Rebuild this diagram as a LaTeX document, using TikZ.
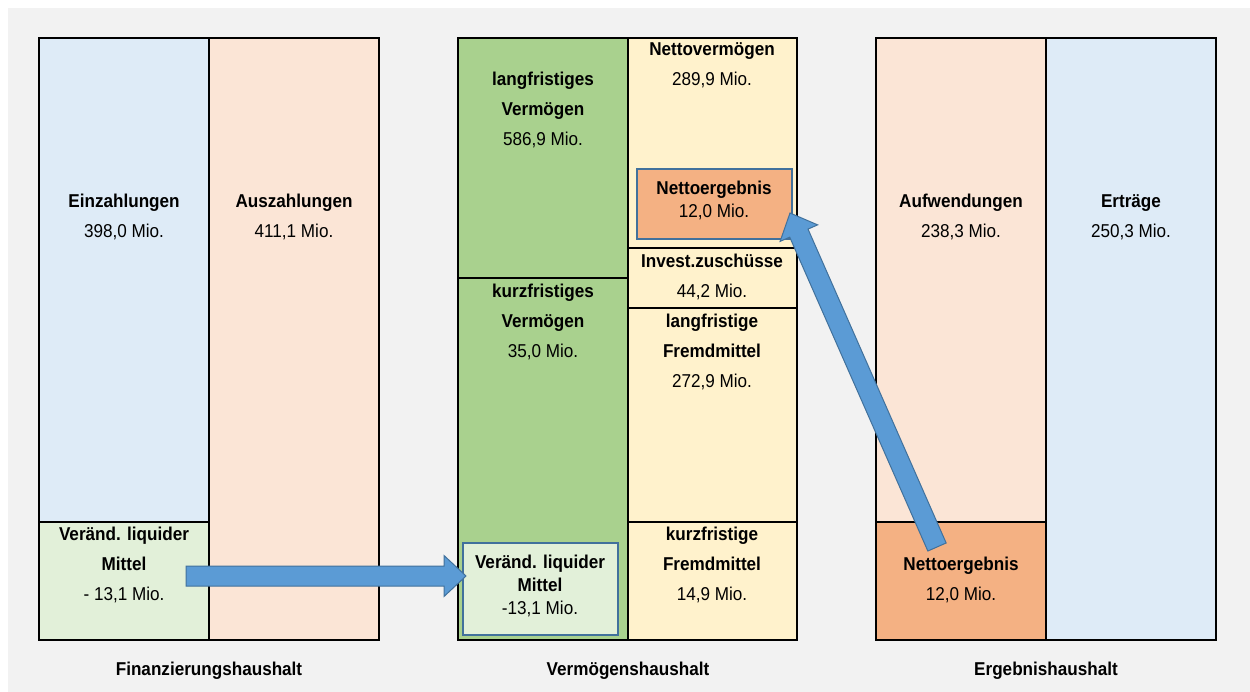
\documentclass[tikz,border=0pt]{standalone}
\usepackage{fontspec}
\setmainfont{Liberation Sans}[FakeStretch=0.92]
\usetikzlibrary{calc}
\definecolor{cBg}{HTML}{F2F2F2}
\definecolor{cBlue}{HTML}{DEEBF7}
\definecolor{cPeach}{HTML}{FBE5D6}
\definecolor{cLGreen}{HTML}{E2F0D9}
\definecolor{cGreen}{HTML}{A9D18E}
\definecolor{cYellow}{HTML}{FFF2CC}
\definecolor{cOrange}{HTML}{F4B183}
\definecolor{cArrow}{HTML}{5B9BD5}
\definecolor{cArrowB}{HTML}{41719C}
\tikzset{
  cell/.style={draw=black, line width=2.5pt, inner sep=0pt, outer sep=0pt, anchor=north west},
  inbox/.style={draw=cArrowB, line width=1.5pt, inner sep=0pt, outer sep=0pt, anchor=north west},
  txt/.style={anchor=base, align=center, inner sep=0pt, font=\fontsize{18.6}{30}\selectfont},
  txttight/.style={anchor=base, align=center, inner sep=0pt, font=\fontsize{18.6}{23}\selectfont},
  caption/.style={anchor=base, inner sep=0pt, font=\fontsize{18.6}{30}\selectfont\bfseries},
  barrow/.style={fill=cArrow, draw=cArrowB, line width=1pt, line join=miter}
}
\newcommand{\blockarrow}[2]{%
  \coordinate (hb) at ($(#2)!22pt!(#1)$);
  \draw[barrow] ($(#1)!10pt!90:(#2)$) -- ($(hb)!10pt!-90:(#1)$) -- ($(hb)!20.5pt!-90:(#1)$) -- (#2)
    -- ($(hb)!20.5pt!90:(#1)$) -- ($(hb)!10pt!90:(#1)$) -- ($(#1)!10pt!-90:(#2)$) -- cycle;
}
\begin{document}
\begin{tikzpicture}[x=1pt, y=-1pt]
\useasboundingbox (0,0) rectangle (1250,692);
\fill[white] (0,0) rectangle (1250,692);
\fill[cBg] (8,8) rectangle (1250,692);

% Finanzierungshaushalt
\node[cell, fill=cBlue, minimum width=170pt, minimum height=484pt] (einz) at (39,38) {};
\node[cell, fill=cLGreen, minimum width=170pt, minimum height=118pt] (verL) at (39,522) {};
\node[cell, fill=cPeach, minimum width=170pt, minimum height=602pt] (ausz) at (209,38) {};

% Vermoegenshaushalt
\node[cell, fill=cGreen, minimum width=170pt, minimum height=240pt] (langV) at (458,38) {};
\node[cell, fill=cGreen, minimum width=170pt, minimum height=362pt] (kurzV) at (458,278) {};
\node[cell, fill=cYellow, minimum width=169pt, minimum height=210pt] (nettoV) at (628,38) {};
\node[cell, fill=cYellow, minimum width=169pt, minimum height=60pt] (invest) at (628,248) {};
\node[cell, fill=cYellow, minimum width=169pt, minimum height=214pt] (langF) at (628,308) {};
\node[cell, fill=cYellow, minimum width=169pt, minimum height=118pt] (kurzF) at (628,522) {};
\node[inbox, fill=cOrange, minimum width=155pt, minimum height=70pt] (neBox) at (637,169) {};
\node[inbox, fill=cLGreen, minimum width=155pt, minimum height=92pt] (verM) at (463,543) {};

% Ergebnishaushalt
\node[cell, fill=cPeach, minimum width=170pt, minimum height=484pt] (aufw) at (876,38) {};
\node[cell, fill=cOrange, minimum width=170pt, minimum height=118pt] (neR) at (876,522) {};
\node[cell, fill=cBlue, minimum width=170pt, minimum height=602pt] (ertr) at (1046,38) {};

% texts (base = baseline of last line)
\node[txt] (tEinz) at (124,238) {\textbf{Einzahlungen}\\398,0 Mio.};
\node[txt] (tAusz) at (294,238) {\textbf{Auszahlungen}\\411,1 Mio.};
\node[txt] (tVerL) at (124,600) {\textbf{Veränd. liquider}\\\textbf{Mittel}\\- 13,1 Mio.};
\node[txt] (tLangV) at (543,146) {\textbf{langfristiges}\\\textbf{Vermögen}\\586,9 Mio.};
\node[txt] (tKurzV) at (543,358) {\textbf{kurzfristiges}\\\textbf{Vermögen}\\35,0 Mio.};
\node[txt] (tNettoV) at (712,86) {\textbf{Nettovermögen}\\289,9 Mio.};
\node[txttight] (tNE) at (714,218) {\textbf{Nettoergebnis}\\12,0 Mio.};
\node[txt] (tInv) at (712,298) {\textbf{Invest.zuschüsse}\\44,2 Mio.};
\node[txt] (tLangF) at (712,388) {\textbf{langfristige}\\\textbf{Fremdmittel}\\272,9 Mio.};
\node[txt] (tKurzF) at (712,600) {\textbf{kurzfristige}\\\textbf{Fremdmittel}\\14,9 Mio.};
\node[txttight] (tVerM) at (540,614) {\textbf{Veränd. liquider}\\\textbf{Mittel}\\-13,1 Mio.};
\node[txt] (tAufw) at (961,238) {\textbf{Aufwendungen}\\238,3 Mio.};
\node[txt] (tErtr) at (1131,238) {\textbf{Erträge}\\250,3 Mio.};
\node[txt] (tNER) at (961,600) {\textbf{Nettoergebnis}\\12,0 Mio.};

\node[caption] (cFin) at (209,675) {Finanzierungshaushalt};
\node[caption] (cVer) at (628,675) {Vermögenshaushalt};
\node[caption] (cErg) at (1046,675) {Ergebnishaushalt};

% arrows
\coordinate (a1s) at (186,576);
\coordinate (a1e) at (466,576);
\blockarrow{a1s}{a1e}
\coordinate (a2s) at (937,547);
\coordinate (a2e) at (790,213);
\blockarrow{a2s}{a2e}
\end{tikzpicture}
\end{document}
